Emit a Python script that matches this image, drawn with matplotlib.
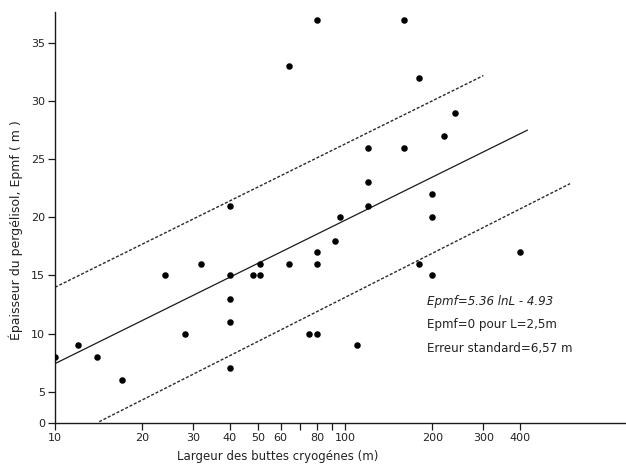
import numpy as np
import matplotlib
matplotlib.use("Agg")
import matplotlib.pyplot as plt
from matplotlib.ticker import FixedLocator, FixedFormatter, NullFormatter

# ---- data ----
width_m = [10, 12, 14, 17, 24, 28, 32, 40, 40, 40, 40, 40, 48, 51, 51, 64, 64,
           75, 80, 80, 80, 80, 92, 96, 110, 120, 120, 120, 160, 160, 180, 180,
           200, 200, 200, 220, 240, 400]
thickness_m = [8, 9, 8, 6, 15, 10, 16, 21, 15, 13, 11, 7, 15, 15, 16, 33, 16,
               10, 10, 37, 17, 16, 18, 20, 9, 26, 23, 21, 37, 26, 32, 16,
               22, 20, 15, 27, 29, 17]

fit_x = [10, 425]
fit_y = [7.41, 27.5]
upper_x = [10, 300]
upper_y = [13.98, 32.2]
lower_x = [14.2, 597]
lower_y = [0.25, 22.9]

xticks_major = [10, 20, 30, 40, 50, 60, 80, 100, 200, 300, 400]
xtick_labels = ["10", "20", "30", "40", "50", "60", "80", "100", "200", "300", "400"]
xticks_minor = [70, 90]
yticks = [0, 5, 10, 15, 20, 25, 30, 35]

annot = ["Epmf=5.36 lnL - 4.93", "Epmf=0 pour L=2,5m", "Erreur standard=6,57 m"]

# ---- figure ----
W, H = 626, 466
fig = plt.figure(figsize=(W / 100, H / 100), dpi=100)
ax = fig.add_axes([55 / W, (H - 423.3) / H, (W - 55) / W, (423.3 - 11.7) / H])

K = 0.545  # compression of the 0-5 band in the original drawing


def fwd(y):
    y = np.asarray(y, dtype=float)
    return np.where(y >= 5, y, 5 - (5 - y) * K)


def inv(t):
    t = np.asarray(t, dtype=float)
    return np.where(t >= 5, t, 5 - (5 - t) / K)


ax.set_xscale("log")
ax.set_yscale("function", functions=(fwd, inv))
ax.set_xlim(10, 931)
ax.set_ylim(0, 37.7)

ink = "#1a1a1a"
ax.scatter(width_m, thickness_m, s=22, color="black", zorder=3, linewidths=0)
ax.plot(fit_x, fit_y, color=ink, lw=0.9)
dash = (0, (2.2, 1.3))
ax.plot(upper_x, upper_y, color="#2a2a2a", lw=1.0, linestyle=dash)
ax.plot(lower_x, lower_y, color="#2a2a2a", lw=1.0, linestyle=dash)

for s in ["top", "right"]:
    ax.spines[s].set_visible(False)
for s in ["left", "bottom"]:
    ax.spines[s].set_color(ink)
    ax.spines[s].set_linewidth(1.0)

ax.xaxis.set_major_locator(FixedLocator(xticks_major))
ax.xaxis.set_major_formatter(FixedFormatter(xtick_labels))
ax.xaxis.set_minor_locator(FixedLocator(xticks_minor))
ax.xaxis.set_minor_formatter(NullFormatter())
ax.yaxis.set_major_locator(FixedLocator(yticks))
ax.yaxis.set_major_formatter(FixedFormatter([str(v) for v in yticks]))
ax.yaxis.set_minor_locator(FixedLocator([]))

ax.tick_params(axis="both", which="both", direction="out", length=5, width=0.9,
               color=ink, labelsize=8, labelcolor="#222222", pad=2)

ax.set_xlabel("Largeur des buttes cryogénes (m)", fontsize=8.5, color="#222222")
ax.set_ylabel("Épaisseur du pergélisol, Epmf ( m )", fontsize=9, color="#222222")
ax.xaxis.set_label_coords((278 - 55) / (W - 55), -(450 - 423.3) / (423.3 - 11.7))
ax.yaxis.set_label_coords(-(55 - 23) / (W - 55), 0.47)

for i, (txt, py) in enumerate(zip(annot, [301.7, 324.3, 348.3])):
    fig.text(427 / W, (H - py) / H, txt, fontsize=8.6, color="#222222",
             ha="left", va="center", style="italic" if i == 0 else "normal")

fig.savefig("out.png", dpi=100)
